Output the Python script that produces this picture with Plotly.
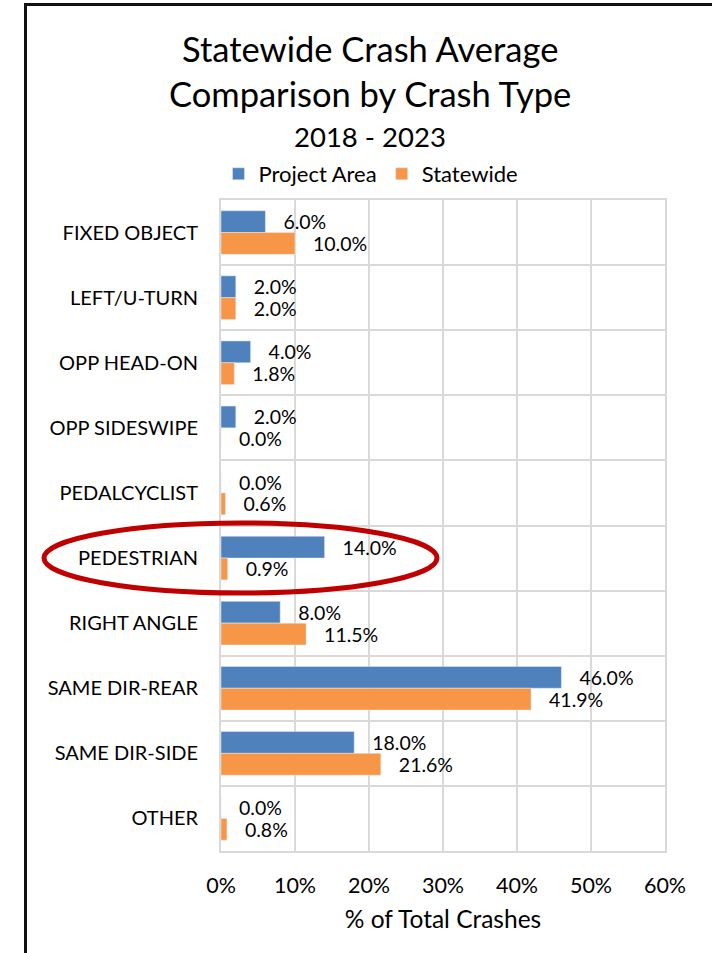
import plotly.graph_objects as go

categories = ["FIXED OBJECT", "LEFT/U-TURN", "OPP HEAD-ON", "OPP SIDESWIPE", "PEDALCYCLIST",
              "PEDESTRIAN", "RIGHT ANGLE", "SAME DIR-REAR", "SAME DIR-SIDE", "OTHER"]
project_area = [6.0, 2.0, 4.0, 2.0, 0.0, 14.0, 8.0, 46.0, 18.0, 0.0]
statewide = [10.0, 2.0, 1.8, 0.0, 0.6, 0.9, 11.5, 41.9, 21.6, 0.8]
x_tick_vals = [0, 10, 20, 30, 40, 50, 60]
x_tick_text = ["0%", "10%", "20%", "30%", "40%", "50%", "60%"]

W, H = 712, 953
L, R, T, B = 221, 47, 200, 102
PW, PH = W - L - R, H - T - B

def px_x(p):
    return (p - L) / PW

def px_y(p):
    return (H - B - p) / PH

FONT = "Lato"
BLUE = "#4F81BD"
ORANGE = "#F79646"
label_tpl = "\u00a0\u00a0\u00a0%{x:.1f}%"

fig = go.Figure()
fig.add_trace(go.Bar(
    y=categories, x=project_area, orientation="h", name="Project Area",
    marker=dict(color=BLUE), texttemplate=label_tpl, textposition="outside",
    textfont=dict(size=19.5, color="#000000", family=FONT), cliponaxis=False,
    constraintext="none",
))
fig.add_trace(go.Bar(
    y=categories, x=statewide, orientation="h", name="Statewide",
    marker=dict(color=ORANGE), texttemplate=label_tpl, textposition="outside",
    textfont=dict(size=19.5, color="#000000", family=FONT), cliponaxis=False,
    constraintext="none",
))

fig.update_layout(
    width=W, height=H,
    margin=dict(l=L, r=R, t=T, b=B, pad=0),
    paper_bgcolor="white", plot_bgcolor="white",
    font=dict(family=FONT, color="#000000"),
    barmode="group", bargap=0.33, bargroupgap=0,
    showlegend=True,
    legend=dict(orientation="h", x=px_x(371), xanchor="center",
                y=px_y(174), yanchor="middle", traceorder="normal",
                font=dict(size=22, family=FONT), itemwidth=30,
                bgcolor="rgba(0,0,0,0)"),
    xaxis=dict(range=[0, 60], tickmode="array", tickvals=x_tick_vals, ticktext=x_tick_text,
               showgrid=True, gridcolor="#D9D9D9", gridwidth=2, zeroline=False,
               showline=True, linecolor="#D9D9D9", linewidth=2, mirror=True,
               ticks="", ticklabelstandoff=14, tickfont=dict(size=21.5, family=FONT),
               title=dict(text="% of Total Crashes", font=dict(size=24.5, family=FONT), standoff=14)),
    yaxis=dict(type="category", autorange="reversed", tickson="boundaries",
               showgrid=True, gridcolor="#D9D9D9", gridwidth=2,
               showline=True, linecolor="#D9D9D9", linewidth=2, mirror=True,
               ticks="", ticklabelstandoff=17, tickfont=dict(size=20, family=FONT)),
)

# Title as three text lines
title_lines = [("Statewide Crash Average", 34.5, 48), ("Comparison by Crash Type", 34.5, 93),
               ("2018 - 2023", 27.5, 136)]
for txt, size, cy in title_lines:
    fig.add_annotation(text=txt, xref="paper", yref="paper", x=px_x(370), y=px_y(cy),
                       xanchor="center", yanchor="middle", showarrow=False,
                       font=dict(size=size, family=FONT, color="#000000"))

# Chart border (top and left edges visible) and highlight ellipse
fig.add_shape(type="line", xref="paper", yref="paper",
              x0=px_x(24), x1=px_x(712), y0=px_y(4.5), y1=px_y(4.5),
              line=dict(color="#111111", width=3), layer="above")
fig.add_shape(type="line", xref="paper", yref="paper",
              x0=px_x(25.5), x1=px_x(25.5), y0=px_y(3), y1=px_y(953),
              line=dict(color="#111111", width=3), layer="above")
fig.add_shape(type="circle", xref="paper", yref="paper",
              x0=px_x(44), x1=px_x(437), y0=px_y(593), y1=px_y(523),
              line=dict(color="#C00000", width=5), fillcolor="rgba(0,0,0,0)", layer="above")

fig.write_html("out.html", config={"displayModeBar": False},
               post_script=("document.documentElement.style.overflow='hidden';"
                            "document.body.style.margin='0';"
                            "document.body.style.overflow='hidden';"))
